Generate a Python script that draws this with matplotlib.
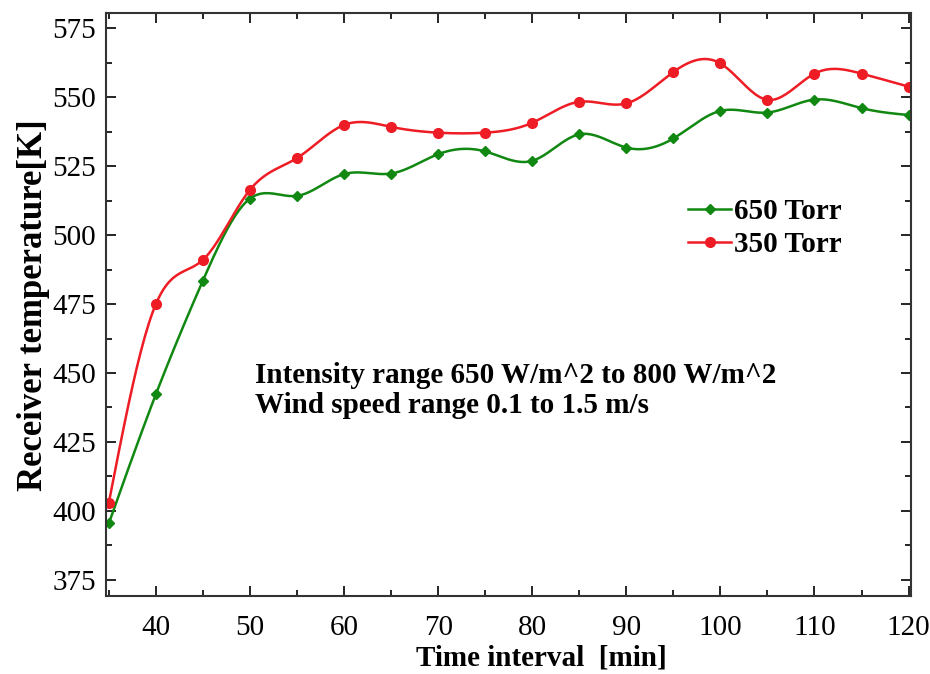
import matplotlib
matplotlib.use("Agg")
import matplotlib.pyplot as plt
import numpy as np
from matplotlib.ticker import MultipleLocator

plt.rcParams['font.family'] = ['Liberation Serif', 'DejaVu Serif']

time_min = [35, 40, 45, 50, 55, 60, 65, 70, 75, 80, 85, 90, 95, 100, 105, 110, 115, 120]
temp_650 = [395.5, 442.3, 483.5, 513.2, 514.2, 522.1, 522.3, 529.3, 530.3, 526.9,
            536.5, 531.7, 535.0, 545.0, 544.4, 549.1, 546.0, 543.5]
temp_350 = [403.0, 475.0, 491.0, 516.4, 527.9, 539.9, 539.2, 537.1, 537.1, 540.7,
            548.3, 547.7, 559.1, 562.2, 549.0, 558.5, 558.5, 553.8]
labels = ['650 Torr', '350 Torr']


def spline(x, y, n=400):
    # natural cubic spline, only used to draw a smooth line through the points
    x = np.asarray(x, float)
    y = np.asarray(y, float)
    k = len(x)
    h = np.diff(x)
    A = np.zeros((k, k))
    b = np.zeros(k)
    A[0, 0] = A[-1, -1] = 1
    for i in range(1, k - 1):
        A[i, i - 1] = h[i - 1]
        A[i, i] = 2 * (h[i - 1] + h[i])
        A[i, i + 1] = h[i]
        b[i] = 6 * ((y[i + 1] - y[i]) / h[i] - (y[i] - y[i - 1]) / h[i - 1])
    M = np.linalg.solve(A, b)
    xs = np.linspace(x[0], x[-1], n)
    j = np.clip(np.searchsorted(x, xs) - 1, 0, k - 2)
    t0 = x[j + 1] - xs
    t1 = xs - x[j]
    hj = h[j]
    ys = (M[j] * t0**3 + M[j + 1] * t1**3) / (6 * hj) \
        + (y[j] / hj - M[j] * hj / 6) * t0 + (y[j + 1] / hj - M[j + 1] * hj / 6) * t1
    return xs, ys


fig = plt.figure(figsize=(9.3, 6.74), dpi=100)
ax = fig.add_axes([0.114, 0.115, 0.866, 0.865])

green = '#118811'
red = '#ee1c24'

xs, ys = spline(time_min, temp_650)
ax.plot(xs, ys, color=green, lw=1.8)
ax.plot(time_min, temp_650, 'D', color=green, ms=5.5)
xs, ys = spline(time_min, temp_350)
ax.plot(xs, ys, color=red, lw=1.8)
ax.plot(time_min, temp_350, 'o', color=red, ms=7)

# legend proxies
h1, = ax.plot([], [], '-D', color=green, lw=1.8, ms=5.5)
h2, = ax.plot([], [], '-o', color=red, lw=1.8, ms=7)
ax.legend([h1, h2], labels, loc='center left', bbox_to_anchor=(0.705, 0.632),
          frameon=False, handlelength=1.45, handletextpad=0.1, labelspacing=0.22,
          borderpad=0, prop={'weight': 'bold', 'size': 21})

ax.text(0.185, 0.354, "Intensity range 650 W/m^2 to 800 W/m^2\nWind speed range 0.1 to 1.5 m/s",
        transform=ax.transAxes, va='center', ha='left', fontsize=21,
        fontweight='bold', linespacing=1.15)

ax.set_xlim(34.7, 120.3)
ax.set_ylim(369, 580.3)
ax.xaxis.set_major_locator(MultipleLocator(10))
ax.xaxis.set_minor_locator(MultipleLocator(5))
ax.yaxis.set_major_locator(MultipleLocator(25))
ax.yaxis.set_minor_locator(MultipleLocator(12.5))
ax.set_xticks(range(40, 121, 10))
ax.tick_params(which='both', direction='in', top=True, right=True, labelsize=21, width=1.2)
ax.tick_params(which='major', length=7)
ax.tick_params(which='minor', length=4)
ax.tick_params(axis='x', pad=13)
ax.tick_params(axis='y', pad=7)
for s in ax.spines.values():
    s.set_linewidth(1.5)
    s.set_color('#333333')

ax.set_xlabel("Time interval  [min]", fontsize=21, fontweight='bold')
ax.xaxis.set_label_coords(0.54, -0.083)
ax.set_ylabel("Receiver temperature[K]", fontsize=25, fontweight='bold', labelpad=2)

fig.savefig("out.png", dpi=100)
